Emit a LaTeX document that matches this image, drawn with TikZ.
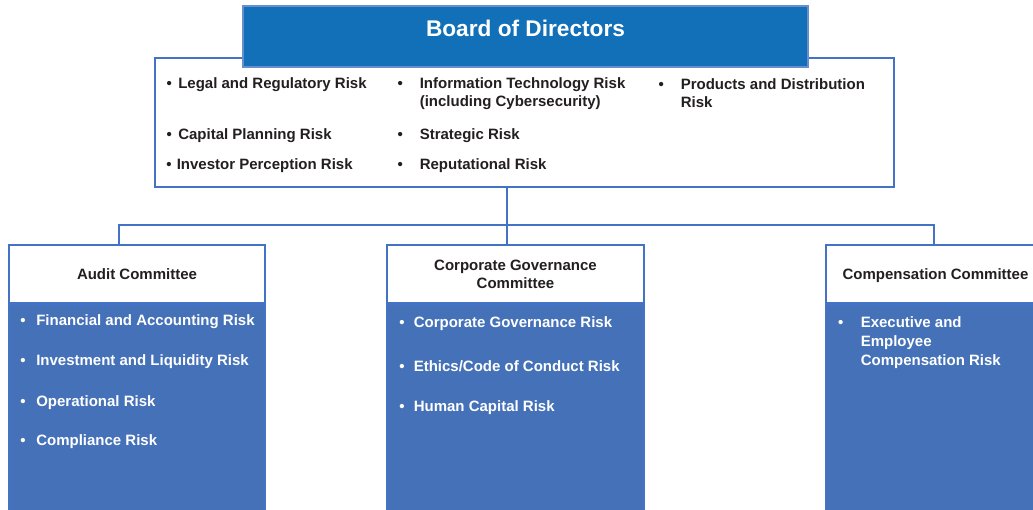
\documentclass[tikz,border=0pt]{standalone}
\usepackage{fontspec}
\setmainfont{Liberation Sans}
\usetikzlibrary{positioning}

\definecolor{boardblue}{HTML}{1170B8}
\definecolor{lineblue}{HTML}{4472C4}
\definecolor{bodyblue}{HTML}{4571B8}
\definecolor{inkblack}{HTML}{231F20}

\newcommand{\riskbullet}[1]{\makebox[0pt][r]{\textbullet\hspace{#1}}}

\tikzset{
  frame/.style={draw=lineblue, line width=1.5pt, inner sep=0pt},
  headbox/.style={frame, fill=white, text=inkblack, align=center,
    minimum height=43.5pt},
  bodybox/.style={frame, fill=bodyblue, minimum height=166.5pt, anchor=north},
  item/.style={anchor=west, inner sep=0pt, align=left, text=inkblack, yshift=-2.25pt},
  whiteitem/.style={item, text=white},
  link/.style={draw=lineblue, line width=1.5pt},
}

\begin{document}
\begin{tikzpicture}[x=0.75pt, y=-0.75pt, font=\fontsize{11.25}{13.5}\selectfont\bfseries]
\useasboundingbox (0,0) rectangle (1033,510);

% board and its risks
\node[frame, fill=white, minimum width=554.25pt, minimum height=96.75pt] (risks) at (524.5,122.5) {};
\node[draw=lineblue!80, line width=1pt, fill=boardblue, minimum width=423.75pt, minimum height=45.75pt] (board) at (525.5,36.5) {};
\node[text=white, font=\fontsize{17}{20}\selectfont\bfseries] (boardtitle) at (525.5,28) {Board of Directors};

\node[item] (legal) at (178,82) {\riskbullet{4.8pt}Legal and Regulatory Risk};
\node[item] (capital) at (178,133) {\riskbullet{4.8pt}Capital Planning Risk};
\node[item] (investor) at (176.5,163) {\riskbullet{3.8pt}Investor Perception Risk};
\node[item] (infotech) at (419.5,91) {\riskbullet{12.7pt}Information Technology Risk\\(including Cybersecurity)};
\node[item] (strategic) at (419.5,133) {\riskbullet{12.7pt}Strategic Risk};
\node[item] (reputation) at (419.5,163) {\riskbullet{12.7pt}Reputational Risk};
\node[item] (products) at (680.5,90) {\riskbullet{12.7pt}Products and Distribution\\Risk};

% committees
\node[headbox, minimum width=192pt, text depth=0pt] (audithead) at (137,274) {Audit Committee};
\node[bodybox, minimum width=192pt] (auditbody) at (audithead.south) {};
\node[headbox, minimum width=192.75pt] (govhead) at (515.5,274) {Corporate Governance\\Committee};
\node[bodybox, minimum width=192.75pt] (govbody) at (govhead.south) {};
\node[headbox, minimum width=164.25pt, text depth=0pt] (comphead) at (935.5,274) {Compensation Committee};
\node[bodybox, minimum width=164.25pt] (compbody) at (comphead.south) {};

\node[whiteitem] (financial) at (36,319) {\riskbullet{8pt}Financial and Accounting Risk};
\node[whiteitem] (liquidity) at (36,359) {\riskbullet{8pt}Investment and Liquidity Risk};
\node[whiteitem] (operational) at (36,400) {\riskbullet{8pt}Operational Risk};
\node[whiteitem] (compliance) at (36,439) {\riskbullet{8pt}Compliance Risk};

\node[whiteitem] (governance) at (413.5,321) {\riskbullet{6.8pt}Corporate Governance Risk};
\node[whiteitem] (ethics) at (413.5,363) {\riskbullet{6.8pt}Ethics/Code of Conduct Risk};
\node[whiteitem] (humancap) at (413.5,405) {\riskbullet{6.8pt}Human Capital Risk};

\node[whiteitem, font=\fontsize{11.25}{14}\selectfont\bfseries] (compensation) at (860.5,339.5) {\riskbullet{13pt}Executive and\\Employee\\Compensation Risk};

% connectors
\coordinate (stem) at (507,187);
\coordinate (bus) at (507,225);
\coordinate (auditdrop) at (119,245);
\coordinate (govdrop) at (507,245);
\coordinate (compdrop) at (934,245);
\draw[link] (stem) -- (govdrop);
\draw[link] (auditdrop) |- (bus) -| (compdrop);
\end{tikzpicture}
\end{document}
